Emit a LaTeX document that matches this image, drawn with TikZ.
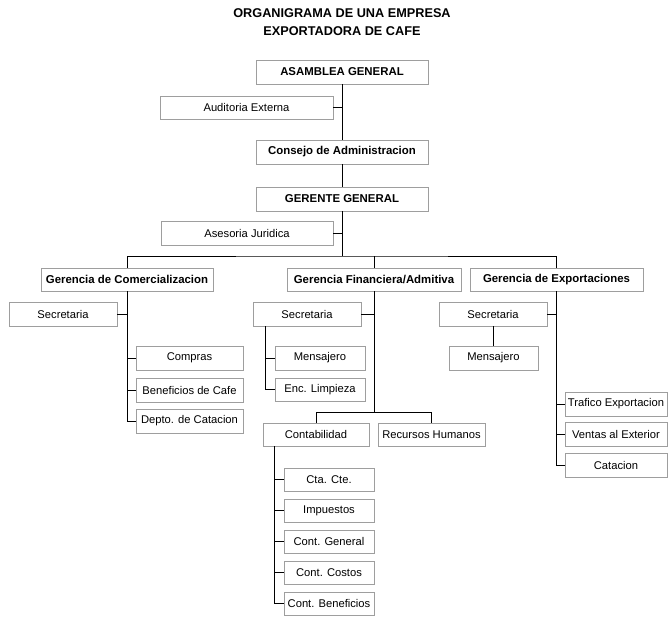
\documentclass[tikz,border=0pt]{standalone}
\usepackage{fontspec}
\setmainfont{Liberation Sans}
\begin{document}
\begin{tikzpicture}[x=1pt,y=-1pt,
  box/.style={draw=black!38,line width=0.8pt,rectangle,inner sep=0pt,minimum height=24pt,
    font=\fontsize{11.2}{13}\selectfont},
  bbox/.style={box,font=\fontsize{11.4}{13}\selectfont\bfseries},
  conn/.style={draw=black,line width=0.8pt}]
\useasboundingbox (0,0) rectangle (668,619);
\node[align=center,font=\fontsize{12.7}{18}\selectfont\bfseries] (title) at (342,22) {ORGANIGRAMA DE UNA EMPRESA\\EXPORTADORA DE CAFE};
% top chain
\node[bbox,minimum width=172pt] (asamblea) at (342,72) {ASAMBLEA GENERAL};
\node[box,minimum width=173pt,minimum height=23pt] (auditoria) at (246.5,107.5) {Auditoria Externa};
\node[bbox,minimum width=172pt] (consejo) at (342,152) {Consejo de Administracion};
\node[bbox,minimum width=172pt] (gerente) at (342,199) {GERENTE GENERAL};
\node[box,minimum width=172pt] (asesoria) at (247,233) {Asesoria Juridica};
% gerencias
\node[bbox,minimum width=172pt,minimum height=23pt] (gcom) at (127,279.5) {Gerencia de Comercializacion};
\node[bbox,minimum width=174pt,minimum height=23pt] (gfin) at (374,279.5) {Gerencia Financiera/Admitiva};
\node[bbox,minimum width=173pt,minimum height=23pt] (gexp) at (556.5,279.5) {Gerencia de Exportaciones};
% comercializacion
\node[box,minimum width=108pt] (sec1) at (63,314) {Secretaria};
\node[box,minimum width=107pt] (compras) at (189.5,358) {Compras};
\node[box,minimum width=107pt] (benef) at (189.5,390) {Beneficios de Cafe};
\node[box,minimum width=107pt] (depto) at (189.5,421) {Depto. de Catacion};
% financiera
\node[box,minimum width=108pt] (sec2) at (307,314) {Secretaria};
\node[box,minimum width=90pt] (mens2) at (320,358) {Mensajero};
\node[box,minimum width=90pt,minimum height=23pt] (enc) at (320,389.5) {Enc. Limpieza};
\node[box,minimum width=106pt,minimum height=23pt] (conta) at (316,434.5) {Contabilidad};
\node[box,minimum width=107pt,minimum height=23pt] (rrhh) at (431.5,434.5) {Recursos Humanos};
\node[box,minimum width=90pt,minimum height=23pt] (cta) at (329,479.5) {Cta. Cte.};
\node[box,minimum width=90pt,minimum height=23pt] (imp) at (329,510.5) {Impuestos};
\node[box,minimum width=90pt,minimum height=23pt] (cgen) at (329,541.5) {Cont. General};
\node[box,minimum width=90pt,minimum height=23pt] (ccos) at (329,572.5) {Cont. Costos};
\node[box,minimum width=90pt,minimum height=23pt] (cben) at (329,603.5) {Cont. Beneficios};
% exportaciones
\node[box,minimum width=108pt] (sec3) at (493,314) {Secretaria};
\node[box,minimum width=89pt] (mens3) at (493.5,358) {Mensajero};
\node[box,minimum width=102pt] (traf) at (616,404) {Trafico Exportacion};
\node[box,minimum width=102pt] (ventas) at (616,434.5) {Ventas al Exterior};
\node[box,minimum width=102pt] (catac) at (616,465.5) {Catacion};
% connectors top
\draw[conn] (asamblea.south) -- (consejo.north);
\draw[conn] (consejo.south) -- (gerente.north);
\draw[conn] (auditoria.east) -- (auditoria.east -| asamblea.south);
\coordinate (bus) at (342,256);
\draw[conn] (gerente.south) -- (bus);
\draw[conn] (asesoria.east) -- (asesoria.east -| gerente.south);
\draw[conn] (gcom.north) |- (bus) -| (gexp.north);
\draw[conn] (gfin.north) -- (gfin.north |- bus);
% comercializacion
\draw[conn] (gcom.south) |- (depto.west);
\draw[conn] (sec1.east) -- (sec1.east -| gcom.south);
\draw[conn] (compras.west) -- (compras.west -| gcom.south);
\draw[conn] (benef.west) -- (benef.west -| gcom.south);
% financiera
\coordinate (bus2) at (374,412.5);
\draw[conn] (gfin.south) -- (bus2);
\draw[conn] (sec2.east) -- (sec2.east -| gfin.south);
\draw[conn] (conta.north) |- (bus2) -| (rrhh.north);
\draw[conn] ([xshift=12.7pt]sec2.south west) |- (enc.west);
\draw[conn] (mens2.west) -- ++(-9.3,0);
\draw[conn] ([xshift=12pt]conta.south west) |- (cben.west);
\draw[conn] (cta.west) -- ++(-9.3,0);
\draw[conn] (imp.west) -- ++(-9.3,0);
\draw[conn] (cgen.west) -- ++(-9.3,0);
\draw[conn] (ccos.west) -- ++(-9.3,0);
% exportaciones
\draw[conn] (gexp.south) |- (catac.west);
\draw[conn] (sec3.east) -- (sec3.east -| gexp.south);
\draw[conn] (sec3.south) -- (mens3.north -| sec3.south);
\draw[conn] (traf.west) -- (traf.west -| gexp.south);
\draw[conn] (ventas.west) -- (ventas.west -| gexp.south);
\end{tikzpicture}
\end{document}
